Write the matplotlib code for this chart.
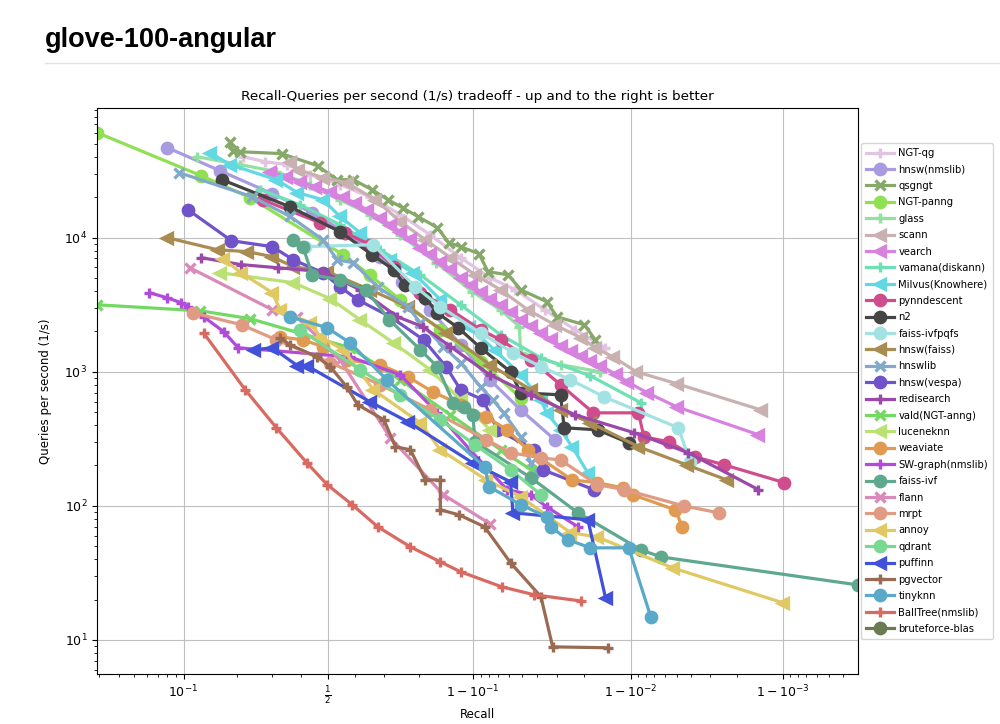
import numpy as np
import matplotlib
matplotlib.use("Agg")
import matplotlib.pyplot as plt
from matplotlib.lines import Line2D
from matplotlib.ticker import NullFormatter

# recall / queries per second
ngt_qg_recall = [0.216, 0.277, 0.349, 0.432, 0.545, 0.654, 0.749, 0.825, 0.882, 0.921, 0.945, 0.964, 0.977, 0.9853]
ngt_qg_qps = [40200, 36900, 35100, 29500, 24900, 20200, 14900, 10500, 7100, 5020, 4090, 2900, 2060, 1510]

hnsw_nmslib_recall = [0.08, 0.162, 0.30, 0.44, 0.565, 0.688, 0.755, 0.825, 0.882, 0.921, 0.949, 0.969]
hnsw_nmslib_qps = [47000, 31600, 21300, 15400, 10900, 7220, 4700, 2900, 1590, 871, 520, 311]

qsgngt_recall = [0.184, 0.19, 0.208, 0.33, 0.46, 0.534, 0.594, 0.661, 0.713, 0.756, 0.797, 0.84,
                 0.862, 0.882, 0.908, 0.919, 0.939, 0.949, 0.965, 0.970, 0.980, 0.983]
qsgngt_qps = [52000, 44600, 43800, 42400, 34400, 27100, 27100, 22800, 19200, 16700, 14350, 11870,
              9180, 8570, 7600, 5570, 5290, 4090, 3340, 2570, 2240, 1730]

ngt_panng_recall = [0.029, 0.127, 0.234, 0.557, 0.652, 0.749, 0.846, 0.91, 0.949]
ngt_panng_qps = [60800, 29000, 19900, 7460, 5290, 3450, 2060, 1190, 640]

glass_recall = [0.12, 0.208, 0.313, 0.432, 0.545, 0.654, 0.749, 0.838, 0.899, 0.932, 0.948, 0.949, 0.9715, 0.9842]
glass_qps = [40200, 35100, 31100, 24900, 19200, 14900, 10500, 6510, 3960, 2900, 2170, 1390, 1130, 1000]

scann_recall = [0.359, 0.388, 0.48, 0.57, 0.672, 0.749, 0.814, 0.865, 0.903, 0.932, 0.954, 0.969,
                0.979, 0.983, 0.987, 0.9908, 0.995, 0.9986]
scann_qps = [36900, 32200, 28100, 25700, 19200, 13200, 9660, 7100, 5290, 4090, 2900, 2240,
             1790, 1510, 1290, 1000, 815, 520]

vearch_recall = [0.293, 0.345, 0.395, 0.45, 0.508, 0.555, 0.602, 0.645, 0.688, 0.72, 0.749, 0.775,
                 0.802, 0.825, 0.846, 0.865, 0.882, 0.897, 0.910, 0.921, 0.932, 0.941, 0.949, 0.956,
                 0.962, 0.967, 0.9715, 0.9755, 0.9788, 0.9817, 0.9842, 0.9875, 0.9895, 0.9922, 0.995, 0.99855]
vearch_qps = [31100, 28500, 26200, 24000, 22000, 20000, 18200, 16000, 14100, 12500, 11100, 9700,
              8420, 7500, 6620, 5800, 5020, 4450, 3960, 3520, 3160, 2780, 2440, 2200,
              1950, 1750, 1560, 1430, 1320, 1210, 1110, 960, 841, 697, 548, 339]

vamana_recall = [0.263, 0.395, 0.545, 0.688, 0.802, 0.882, 0.932, 0.962, 0.9817, 0.9914]
vamana_qps = [22800, 17600, 12500, 8130, 5290, 3160, 1890, 1270, 933, 588]

milvus_recall = [0.143, 0.184, 0.313, 0.385, 0.48, 0.545, 0.619, 0.72, 0.785, 0.846, 0.894, 0.926,
                 0.949, 0.962, 0.965, 0.9715, 0.976, 0.981]
milvus_qps = [43000, 35100, 27100, 21700, 19200, 14400, 10900, 6850, 5480, 3450, 2170, 1460,
              950, 618, 494, 369, 276, 176]

pynndescent_recall = [0.27, 0.47, 0.565, 0.654, 0.73, 0.802, 0.865, 0.910, 0.932, 0.956, 0.9715,
                      0.9825, 0.9911, 0.9918, 0.9944, 0.9962, 0.99757, 0.99902]
pynndescent_qps = [19200, 12900, 10900, 8870, 6080, 3890, 2900, 2060, 1730, 1230, 800,
                   494, 494, 327, 300, 232, 202, 149]

n2_recall = [0.166, 0.359, 0.545, 0.661, 0.73, 0.762, 0.814, 0.84, 0.878, 0.91, 0.941, 0.949,
             0.9715, 0.973, 0.9836, 0.9897]
n2_qps = [27100, 17000, 11100, 7460, 5770, 4460, 3560, 2750, 2130, 1510, 1000, 697,
          673, 382, 369, 295]

ivfpqfs_recall = [0.413, 0.665, 0.79, 0.846, 0.91, 0.943, 0.962, 0.9754, 0.9851, 0.99512, 0.99592]
ivfpqfs_qps = [8570, 8870, 4300, 3060, 1950, 1390, 1090, 871, 650, 382, 213]

hnsw_faiss_recall = [0.08, 0.157, 0.227, 0.30, 0.37, 0.496, 0.654, 0.77, 0.857, 0.921, 0.956,
                     0.9715, 0.9817, 0.9911, 0.9957, 0.99766]
hnsw_faiss_qps = [10000, 8130, 7870, 7220, 6080, 5580, 4090, 3060, 1950, 1130, 734,
                  520, 416, 276, 202, 156]

hnswlib_recall = [0.094, 0.24, 0.359, 0.48, 0.534, 0.594, 0.679, 0.77, 0.802, 0.852, 0.882, 0.91,
                  0.924, 0.935, 0.949, 0.956, 0.958]
hnswlib_qps = [30600, 20200, 14400, 9660, 6850, 6510, 4300, 3060, 2320, 1540, 1170, 772,
               618, 494, 327, 209, 180]

hnsw_vespa_recall = [0.106, 0.187, 0.30, 0.37, 0.48, 0.545, 0.61, 0.72, 0.81, 0.857, 0.882, 0.913,
                     0.929, 0.958, 0.963, 0.9826]
hnsw_vespa_qps = [16200, 9500, 8570, 6850, 5480, 4300, 3450, 2570, 1730, 1090, 734, 618,
                  369, 262, 186, 132]

redisearch_recall = [0.127, 0.21, 0.317, 0.48, 0.619, 0.741, 0.808, 0.865, 0.921, 0.956, 0.9771,
                     0.9905, 0.9958, 0.99855]
redisearch_qps = [7100, 6300, 5970, 5580, 4090, 2570, 2170, 1540, 950, 673, 477, 351, 249, 132]

vald_recall = [0.029, 0.125, 0.234, 0.583, 0.749, 0.865, 0.932, 0.956]
vald_qps = [3160, 2850, 2490, 1510, 871, 477, 262, 186]

luceneknn_recall = [0.162, 0.37, 0.508, 0.619, 0.73, 0.825, 0.882, 0.921]
luceneknn_qps = [5480, 4620, 3510, 2440, 1640, 1035, 618, 369]

weaviate_recall = [0.325, 0.405, 0.48, 0.57, 0.688, 0.77, 0.83, 0.882, 0.917, 0.938, 0.954, 0.976,
                   0.9834, 0.9888, 0.9903, 0.9949, 0.9954]
weaviate_qps = [1820, 1730, 1540, 1230, 1130, 918, 710, 568, 461, 369, 262, 156,
                149, 136, 121, 93.3, 69.7]

sw_graph_recall = [0.062, 0.08, 0.097, 0.107, 0.131, 0.17, 0.203, 0.583, 0.749, 0.84, 0.896, 0.938,
                   0.956, 0.965, 0.978]
sw_graph_qps = [3890, 3560, 3270, 3060, 2570, 1990, 1510, 1290, 950, 494, 262, 132, 121, 98.4, 69.7]

faiss_ivf_recall = [0.37, 0.405, 0.44, 0.545, 0.64, 0.717, 0.802, 0.84, 0.87, 0.888, 0.90, 0.903,
                    0.956, 0.978, 0.9914, 0.99364, 0.99968]
faiss_ivf_qps = [9660, 8570, 5290, 4860, 4090, 2440, 1460, 1090, 588, 548, 477, 300,
                 162, 88.7, 47, 41.6, 25.7]

flann_recall = [0.109, 0.30, 0.385, 0.545, 0.72, 0.852, 0.921]
flann_qps = [5970, 2900, 2570, 1230, 321, 121, 73.5]

mrpt_recall = [0.114, 0.212, 0.313, 0.508, 0.688, 0.825, 0.917, 0.941, 0.962, 0.9715, 0.9834,
               0.989, 0.9955, 0.99735]
mrpt_qps = [2750, 2240, 1730, 1170, 800, 520, 311, 249, 228, 220, 144, 132, 100, 88.7]

annoy_recall = [0.169, 0.21, 0.30, 0.325, 0.432, 0.47, 0.557, 0.665, 0.802, 0.846, 0.917, 0.949,
                0.9754, 0.9834, 0.9947, 0.999]
annoy_qps = [6970, 5480, 3890, 2900, 2320, 1820, 1460, 734, 416, 262, 156, 117,
             63, 58.7, 34.4, 18.9]

qdrant_recall = [0.395, 0.619, 0.749, 0.846, 0.903, 0.941, 0.962]
qdrant_qps = [2060, 1035, 673, 438, 285, 186, 121]

puffinn_recall = [0.245, 0.30, 0.385, 0.42, 0.654, 0.77, 0.90, 0.941, 0.943, 0.981, 0.9854]
puffinn_qps = [1460, 1510, 1110, 1110, 597, 424, 209, 151, 88.7, 78.7, 20.6]

pgvector_recall = [0.325, 0.359, 0.458, 0.508, 0.57, 0.61, 0.70, 0.735, 0.777, 0.814, 0.846, 0.846,
                   0.879, 0.915, 0.941, 0.962, 0.968, 0.986]
pgvector_qps = [1790, 1590, 1290, 1090, 772, 568, 438, 276, 262, 156, 156, 93.3,
                85.8, 69.7, 37.6, 21, 8.87, 8.73]

tinyknn_recall = [0.359, 0.496, 0.583, 0.709, 0.915, 0.92, 0.949, 0.965, 0.967, 0.9745, 0.9817,
                  0.9897, 0.9926]
tinyknn_qps = [2570, 2130, 1640, 871, 195, 139, 102, 82.8, 69.7, 55.8, 48.6, 48.6, 14.9]

balltree_recall = [0.131, 0.221, 0.313, 0.42, 0.496, 0.59, 0.68, 0.777, 0.846, 0.882, 0.933,
                   0.958, 0.979]
balltree_qps = [1950, 734, 382, 209, 144, 102, 69.7, 49.4, 38.2, 32.2, 24.9, 21.7, 19.5]

bruteforce_recall = [1.0]
bruteforce_qps = [20.0]

labels = ["NGT-qg", "hnsw(nmslib)", "qsgngt", "NGT-panng", "glass", "scann", "vearch",
          "vamana(diskann)", "Milvus(Knowhere)", "pynndescent", "n2", "faiss-ivfpqfs",
          "hnsw(faiss)", "hnswlib", "hnsw(vespa)", "redisearch", "vald(NGT-anng)",
          "luceneknn", "weaviate", "SW-graph(nmslib)", "faiss-ivf", "flann", "mrpt",
          "annoy", "qdrant", "puffinn", "pgvector", "tinyknn", "BallTree(nmslib)",
          "bruteforce-blas"]
colors = ["#e2c3e2", "#a99be0", "#86a96a", "#8fe052", "#93e0a3", "#c9b1b1", "#d882e0",
          "#6fe0b5", "#62d8e2", "#d04d8d", "#454545", "#a3e2e2",
          "#a98c52", "#82a9c9", "#7052c9", "#9a49a9", "#72d962",
          "#bbe073", "#e09a52", "#b14bd9", "#5ea98d", "#d98ab9", "#e09b83",
          "#e0c862", "#79d993", "#4152d9", "#9a6a52", "#5aa9c9", "#d96a62",
          "#6a7a52"]
markers = ["+", "o", "x", "o", "+", "<", "<", "+", "<", "o", "o", "o", "<", "x", "o", "+",
           "x", "<", "o", "+", "o", "x", "o", "<", "o", "<", "+", "o", "+", "o"]

series = [(ngt_qg_recall, ngt_qg_qps), (hnsw_nmslib_recall, hnsw_nmslib_qps),
          (qsgngt_recall, qsgngt_qps), (ngt_panng_recall, ngt_panng_qps),
          (glass_recall, glass_qps), (scann_recall, scann_qps), (vearch_recall, vearch_qps),
          (vamana_recall, vamana_qps), (milvus_recall, milvus_qps),
          (pynndescent_recall, pynndescent_qps), (n2_recall, n2_qps),
          (ivfpqfs_recall, ivfpqfs_qps), (hnsw_faiss_recall, hnsw_faiss_qps),
          (hnswlib_recall, hnswlib_qps), (hnsw_vespa_recall, hnsw_vespa_qps),
          (redisearch_recall, redisearch_qps), (vald_recall, vald_qps),
          (luceneknn_recall, luceneknn_qps), (weaviate_recall, weaviate_qps),
          (sw_graph_recall, sw_graph_qps), (faiss_ivf_recall, faiss_ivf_qps),
          (flann_recall, flann_qps), (mrpt_recall, mrpt_qps), (annoy_recall, annoy_qps),
          (qdrant_recall, qdrant_qps), (puffinn_recall, puffinn_qps),
          (pgvector_recall, pgvector_qps), (tinyknn_recall, tinyknn_qps),
          (balltree_recall, balltree_qps), (bruteforce_recall, bruteforce_qps)]

fig = plt.figure(figsize=(10, 7.24), dpi=100)

# page heading above the chart
fig.text(0.045, 1 - 40 / 724, "glove-100-angular", fontsize=19.5, fontweight="bold",
         family="Liberation Sans", va="center", ha="left")
fig.add_artist(Line2D([0.045, 1.0], [1 - 63 / 724] * 2, color="#e3e3e3", lw=1))

ax = fig.add_axes([0.097, 0.069, 0.761, 0.782])
for (r, q), lab, col, mk in zip(series, labels, colors, markers):
    r = np.array(r)
    q = np.array(q)
    keep = r < 1.0
    ax.plot(r[keep], q[keep], "-", label=lab, color=col, marker=mk, ms=7.5, mew=2.4, lw=2.3)

ax.set_xscale("logit")
ax.set_yscale("log")

all_r = np.concatenate([np.array(s[0]) for s in series])
all_q = np.concatenate([np.array(s[1]) for s in series])
all_q = all_q[all_r < 1.0]
all_r = all_r[all_r < 1.0]
ax.set_xlim(all_r.min(), all_r.max())
ax.set_ylim(all_q.min() / 1.57, all_q.max() * 1.53)
ax.xaxis.set_minor_formatter(NullFormatter())

ax.grid(True, which="major", color="0.75", linestyle="-")
ax.set_title("Recall-Queries per second (1/s) tradeoff - up and to the right is better", fontsize=9.7)
ax.set_xlabel("Recall", fontsize=8.5, labelpad=2)
ax.set_ylabel("Queries per second (1/s)", fontsize=8.5, labelpad=9)
ax.tick_params(labelsize=9)
ax.legend(loc="center left", bbox_to_anchor=(0.998, 0.5), prop={"size": 7.2},
          handlelength=2.8, handletextpad=0.4, labelspacing=0.64, borderpad=0.5)

fig.savefig("out.png", dpi=100)
